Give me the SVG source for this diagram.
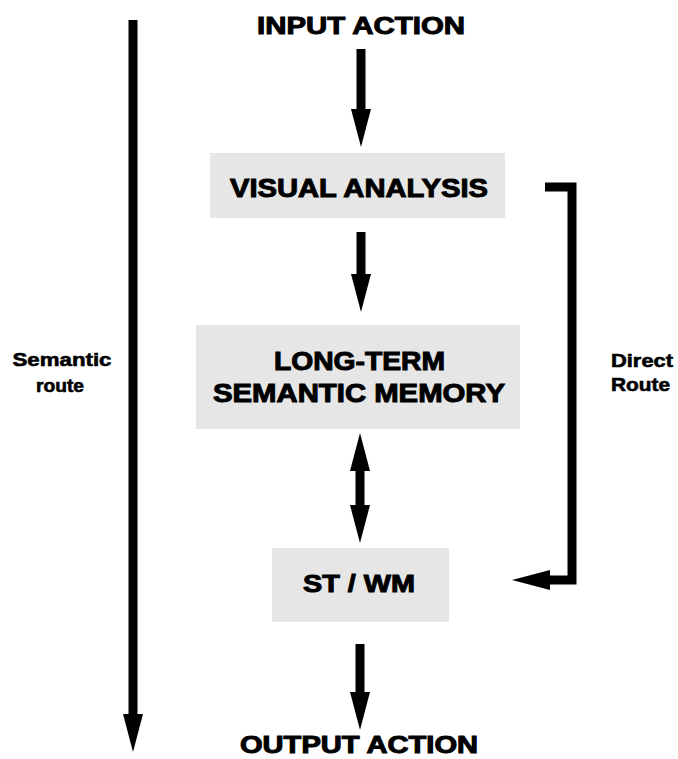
<svg xmlns="http://www.w3.org/2000/svg" width="678" height="759" viewBox="0 0 678 759">
<style>
.box{fill:#e6e6e6;}
.t{font-family:"Liberation Sans",Arial,sans-serif;font-weight:bold;fill:#000;stroke:#000;stroke-width:1;text-anchor:middle;}
.s{font-family:"Liberation Sans",Arial,sans-serif;font-weight:bold;fill:#000;stroke:#000;stroke-width:0.6;}
.c{stroke:#000;stroke-width:9;fill:none;}
</style>
<defs>
<marker id="ah" markerUnits="userSpaceOnUse" viewBox="0 0 38 20" markerWidth="38" markerHeight="20" refX="8" refY="10" orient="auto-start-reverse">
<path d="M0,0 L38,10 L0,20 Z" fill="#000"/>
</marker>
</defs>
<rect width="678" height="759" fill="#fff"/>
<g id="input">
<text class="t" x="361" y="34" font-size="24" textLength="208" lengthAdjust="spacingAndGlyphs">INPUT ACTION</text>
</g>
<g id="visual">
<rect class="box" x="210" y="153" width="295" height="65"/>
<text class="t" x="359" y="197" font-size="26" textLength="258" lengthAdjust="spacingAndGlyphs">VISUAL ANALYSIS</text>
</g>
<g id="ltm">
<rect class="box" x="196" y="325" width="324" height="104"/>
<text class="t" x="359.5" y="370" font-size="25" textLength="171" lengthAdjust="spacingAndGlyphs">LONG-TERM</text>
<text class="t" x="359" y="402" font-size="25" textLength="292" lengthAdjust="spacingAndGlyphs">SEMANTIC MEMORY</text>
</g>
<g id="stwm">
<rect class="box" x="272" y="548" width="177" height="74"/>
<text class="t" x="359" y="592" font-size="24" textLength="112" lengthAdjust="spacingAndGlyphs">ST / WM</text>
</g>
<g id="output">
<text class="t" x="359" y="753" font-size="23" textLength="238" lengthAdjust="spacingAndGlyphs">OUTPUT ACTION</text>
</g>
<g id="semantic-label">
<text class="s" x="62" y="366" font-size="19" text-anchor="middle" textLength="99" lengthAdjust="spacingAndGlyphs">Semantic</text>
<text class="s" x="60" y="392" font-size="19" text-anchor="middle" textLength="48" lengthAdjust="spacingAndGlyphs">route</text>
</g>
<g id="direct-label">
<text class="s" x="611" y="367" font-size="18" textLength="62" lengthAdjust="spacingAndGlyphs">Direct</text>
<text class="s" x="611" y="391" font-size="18" textLength="59" lengthAdjust="spacingAndGlyphs">Route</text>
</g>
<g id="connectors">
<line class="c" x1="361" y1="49" x2="361" y2="117" marker-end="url(#ah)"/>
<line class="c" x1="361" y1="232" x2="361" y2="282" marker-end="url(#ah)"/>
<line class="c" x1="360" y1="463" x2="360" y2="513" marker-start="url(#ah)" marker-end="url(#ah)"/>
<line class="c" x1="360" y1="644" x2="360" y2="700" marker-end="url(#ah)"/>
<line class="c" x1="133" y1="20" x2="133" y2="722" stroke-width="10" marker-end="url(#ah)"/>
<path class="c" d="M545 187 H572 V580 H542" stroke-linejoin="miter" marker-end="url(#ah)"/>
</g>
</svg>
